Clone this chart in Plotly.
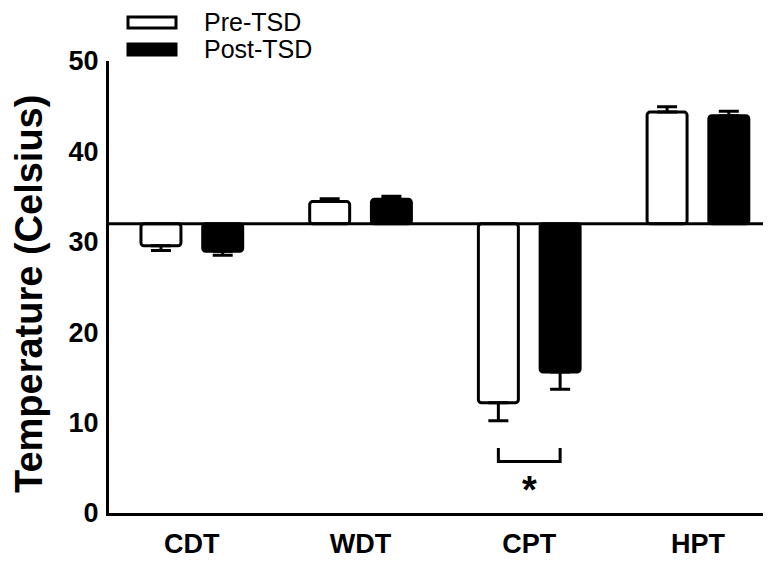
import plotly.graph_objects as go

categories = ["CDT", "WDT", "CPT", "HPT"]
pre_values = [29.55, 34.45, 12.2, 44.35]
pre_errors = [0.5, 0.3, 2.0, 0.6]
post_values = [28.95, 34.7, 15.6, 43.95]
post_errors = [0.45, 0.35, 1.9, 0.5]
series_names = ["Pre-TSD", "Post-TSD"]
baseline = 32
y_ticks = [0, 10, 20, 30, 40, 50]

FONT = "Liberation Sans, Arial, sans-serif"
bar_w = 0.237
sep = 0.183
idx = list(range(len(categories)))


def err_arrays(vals, errs):
    plus = [e if v >= baseline else 0 for v, e in zip(vals, errs)]
    minus = [e if v < baseline else 0 for v, e in zip(vals, errs)]
    return plus, minus


fig = go.Figure()
for name, vals, errs, fill, off in [
    (series_names[0], pre_values, pre_errors, "white", -sep),
    (series_names[1], post_values, post_errors, "black", sep),
]:
    plus, minus = err_arrays(vals, errs)
    fig.add_trace(go.Bar(
        x=idx,
        y=[v - baseline for v in vals],
        base=baseline,
        name=name,
        width=bar_w,
        offset=off - bar_w / 2,
        marker=dict(color=fill, line=dict(color="black", width=3), cornerradius=3),
        error_y=dict(type="data", symmetric=False, array=plus, arrayminus=minus,
                     color="black", thickness=3, width=10),
        showlegend=False,
    ))

# baseline line
fig.add_shape(type="line", xref="paper", yref="y", x0=0, x1=1, y0=baseline, y1=baseline,
              line=dict(color="black", width=3), layer="above")

# significance bracket between CPT bars
ci = categories.index("CPT")
fig.add_shape(type="path", xref="x", yref="y",
              path=f"M {ci - sep},7.2 L {ci - sep},5.7 L {ci + sep},5.7 L {ci + sep},7.2",
              line=dict(color="black", width=3))
fig.add_annotation(x=ci, y=2.6, xref="x", yref="y", text="<b>*</b>", showarrow=False,
                   font=dict(family=FONT, size=38, color="black"), xanchor="center", yanchor="middle")

# manual legend (positions given in window pixels of the reference)
W, H, L, B = 662.0, 452.0, 109.0, 513.0


def px(xp):
    return (xp - L) / W


def py(yp):
    return (B - yp) / H


fig.add_shape(type="rect", xref="paper", yref="paper", x0=px(128), x1=px(176), y0=py(28), y1=py(17),
              line=dict(color="black", width=3), fillcolor="white")
fig.add_shape(type="rect", xref="paper", yref="paper", x0=px(128), x1=px(176), y0=py(55), y1=py(44),
              line=dict(color="black", width=3), fillcolor="black")
for txt, yc in [(series_names[0], 22.5), (series_names[1], 49)]:
    fig.add_annotation(x=px(202), y=py(yc), xref="paper", yref="paper", text=txt, showarrow=False,
                       xanchor="left", yanchor="middle",
                       font=dict(family=FONT, size=25, color="black"))

# y title
fig.add_annotation(x=px(29), y=py(294), xref="paper", yref="paper",
                   text="<b>Temperature (Celsius)</b>", textangle=-90, showarrow=False,
                   xanchor="center", yanchor="middle",
                   font=dict(family=FONT, size=38, color="black"))

# the page body adds an 8px offset, so the figure is sized 8px smaller
fig.update_layout(
    width=763, height=553,
    margin=dict(l=101, r=0, t=53, b=48, autoexpand=False),
    paper_bgcolor="white", plot_bgcolor="white",
    barmode="overlay",
    xaxis=dict(range=[-0.491, 3.433], tickmode="array", tickvals=idx,
               ticktext=[f"<b>{c}</b>" for c in categories],
               showline=True, linecolor="black", linewidth=3, showgrid=False, zeroline=False,
               ticks="", ticklabelstandoff=5, automargin=False,
               tickfont=dict(family=FONT, size=27, color="black")),
    yaxis=dict(range=[0, 50], tickmode="array", tickvals=y_ticks,
               ticktext=[f"<b>{t}</b>" for t in y_ticks],
               showline=True, linecolor="black", linewidth=3, showgrid=False, zeroline=False,
               ticks="", ticklabelstandoff=2, automargin=False,
               tickfont=dict(family=FONT, size=27, color="black")),
)

fig.write_html("out.html")
